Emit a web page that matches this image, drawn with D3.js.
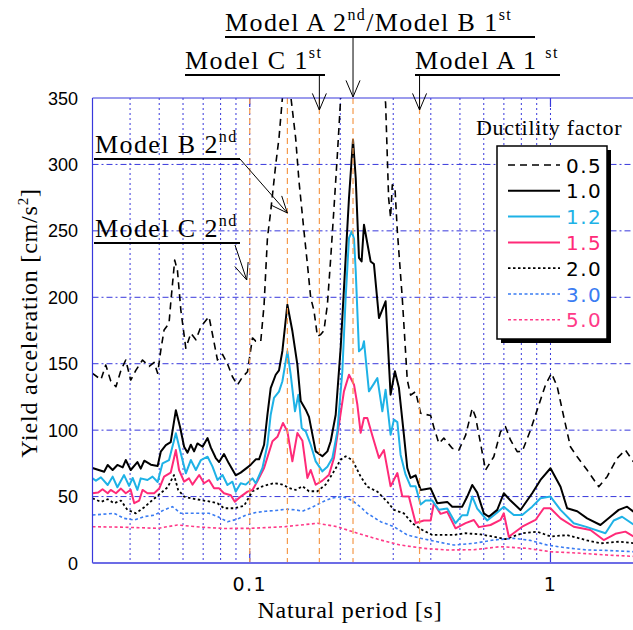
<!DOCTYPE html>
<html>
<head>
<meta charset="utf-8">
<script src="https://cdn.jsdelivr.net/npm/d3@7/dist/d3.min.js"></script>
<style>
  body { margin: 0; background: #fff; }
  svg { display: block; }
</style>
</head>
<body>
<div id="chart"></div>
<script>
// Yield acceleration spectra, one array per ductility factor: [natural period (s), cm/s2]
var mu05 = [[0.030,142.8],[0.0320,138],[0.0332,149],[0.0345,137],[0.0359,132.7],[0.0373,145],[0.0387,152.8],[0.0402,137.7],[0.0418,145],[0.0440,152.8],[0.0463,148],[0.0481,151],[0.0494,142.8],[0.0506,160],[0.0519,175.4],[0.0539,180.4],[0.0546,195.5],[0.0563,228],[0.0575,220],[0.0590,190.4],[0.0613,161.6],[0.0637,172.9],[0.0662,168],[0.0688,177.9],[0.0732,185.4],[0.0752,172],[0.0781,152.8],[0.0812,157],[0.0843,150],[0.0876,140.2],[0.0910,134],[0.0946,140],[0.0983,144],[0.1021,169.4],[0.1047,167],[0.1088,166.9],[0.1116,194.4],[0.1145,244.6],[0.1174,264.7],[0.1220,299.8],[0.1251,319.9],[0.1284,350],[0.1334,375],[0.1368,352],[0.1421,320],[0.1458,287.3],[0.1515,249.7],[0.1555,225],[0.1595,199.5],[0.1635,190],[0.1679,170.6],[0.1722,172],[0.1765,175],[0.1812,194.4],[0.1859,229.6],[0.1906,267.2],[0.1956,307.3],[0.2006,350],[0.2166,430],[0.2429,450],[0.2684,400],[0.2830,346],[0.2896,274.7],[0.2940,260],[0.2979,284.7],[0.3039,283],[0.3096,249.7],[0.3215,199.5],[0.3341,137.7],[0.3427,126.4],[0.3561,129],[0.3700,112.7],[0.3995,111],[0.4096,102],[0.4255,90],[0.4420,94],[0.4714,86.3],[0.4958,85],[0.5220,96],[0.5495,116.4],[0.5634,110],[0.5854,90],[0.6082,70],[0.6480,80],[0.6820,98.8],[0.7086,102.6],[0.7363,92.6],[0.7752,83.8],[0.8054,84],[0.8582,100],[0.9264,122.7],[0.9625,134],[1.008,142.8],[1.053,132.7],[1.107,110.1],[1.165,87.5],[1.227,80],[1.324,70],[1.447,57.4],[1.543,65],[1.665,78.8],[1.775,85],[1.887,76.2]];

var mu10 = [[0.030,71.5],[0.0328,68.7],[0.0337,73.8],[0.0350,70],[0.0363,73.8],[0.0378,72],[0.0387,77.5],[0.0402,70],[0.0423,76],[0.0434,71],[0.0446,77],[0.0469,74],[0.0494,73],[0.0506,83.8],[0.0526,88.8],[0.0546,91],[0.0568,115],[0.0587,102],[0.0605,87.5],[0.0621,83],[0.0637,89],[0.0653,84],[0.0670,90],[0.0697,87.5],[0.0724,94],[0.0742,87],[0.0771,79],[0.0791,76],[0.0821,82],[0.0852,75],[0.0898,66],[0.0933,68],[0.0983,72],[0.1008,74],[0.1047,78],[0.1074,78],[0.1116,89],[0.1145,111.6],[0.1174,131.7],[0.1220,141.7],[0.1251,145],[0.1284,159.6],[0.1334,194.4],[0.1386,174.6],[0.1440,149.3],[0.1477,122],[0.1535,115.4],[0.1574,110],[0.1616,96.6],[0.1657,84],[0.1744,80.3],[0.1812,84],[0.1859,91.6],[0.1931,111.6],[0.2006,161.8],[0.2084,229.6],[0.2138,274.7],[0.2205,318.6],[0.2251,290],[0.2308,229.6],[0.2355,227],[0.2398,254.6],[0.2523,227],[0.2588,225],[0.2690,184.4],[0.2830,197],[0.2940,126.7],[0.3039,144.3],[0.3133,132],[0.3255,96.6],[0.3341,71.5],[0.3427,64],[0.3514,65.3],[0.3561,66],[0.3700,55],[0.3995,56.2],[0.4203,45],[0.4537,46],[0.4714,42.4],[0.5088,42.4],[0.5289,50],[0.5495,58.7],[0.5707,53],[0.6004,37.4],[0.6237,34.8],[0.6653,40],[0.6995,52.5],[0.7363,47],[0.7949,39.9],[0.8694,52.5],[0.9264,62.5],[1.000,71.3],[1.080,57.4],[1.136,41.2],[1.227,39],[1.324,33.6],[1.466,28.6],[1.582,34.8],[1.686,40],[1.798,42.4],[1.887,38.6]];

var mu12 = [[0.030,63.7],[0.0308,62],[0.0320,64.5],[0.0337,58.7],[0.0350,65],[0.0363,57],[0.0382,66.2],[0.0397,58],[0.0408,64],[0.0423,55],[0.0434,63.7],[0.0457,62.5],[0.0475,65],[0.0494,61],[0.0513,75],[0.0539,77.5],[0.0568,97.6],[0.0590,82.5],[0.0613,67.5],[0.0637,77.5],[0.0662,70],[0.0688,77.5],[0.0724,80],[0.0752,72.5],[0.0781,62.5],[0.0812,66.2],[0.0843,58.7],[0.0876,61.2],[0.0898,53.7],[0.0933,60],[0.0970,59],[0.1021,63.7],[0.1047,60],[0.1102,71.5],[0.1145,89],[0.1174,111.6],[0.1204,124.2],[0.1251,129],[0.1284,136.8],[0.1334,159.3],[0.1368,142],[0.1414,114.2],[0.1451,126.7],[0.1489,101.6],[0.1535,99],[0.1595,89],[0.1657,76.5],[0.1744,69],[0.1812,72.5],[0.1883,79],[0.1956,99.1],[0.2032,144.3],[0.2084,199.5],[0.2138,244.6],[0.2183,249.7],[0.2222,244],[0.2251,220],[0.2308,159.3],[0.2369,161.8],[0.2398,166.9],[0.2491,129.2],[0.2588,135],[0.2657,139.2],[0.2760,114.2],[0.2830,130.4],[0.2940,96.6],[0.3016,107.9],[0.3096,106],[0.3174,81.5],[0.3298,66.5],[0.3427,57.7],[0.3561,57.7],[0.3700,44],[0.3844,47],[0.4046,47],[0.4255,40],[0.4537,41],[0.4835,30],[0.5088,36],[0.5289,36],[0.5495,50],[0.5707,41],[0.6162,32],[0.6653,38],[0.6995,42.4],[0.7553,36.1],[0.8054,36.1],[0.8694,42.4],[0.9264,48.7],[1.000,50],[1.080,40],[1.195,29.9],[1.324,27],[1.523,22.4],[1.623,32],[1.730,34.8],[1.887,29]];

var mu15 = [[0.030,52.5],[0.0313,53],[0.0324,55.5],[0.0337,52.5],[0.0345,55],[0.0359,52.5],[0.0373,56],[0.0387,52.5],[0.0402,55],[0.0413,45],[0.0429,47],[0.0440,55],[0.0457,52.5],[0.0481,52.5],[0.0500,56],[0.0519,65],[0.0546,68],[0.0568,85],[0.0582,70],[0.0605,61.2],[0.0628,63.7],[0.0645,59],[0.0679,66.2],[0.0705,60],[0.0732,62.5],[0.0761,56.2],[0.0791,56.2],[0.0821,52.5],[0.0865,51],[0.0892,46.1],[0.0933,50],[0.0983,53.7],[0.1021,55],[0.1060,61.5],[0.1116,71.5],[0.1190,91.6],[0.1236,95],[0.1290,105.4],[0.1334,99.1],[0.1386,76.5],[0.1440,97.8],[0.1497,92],[0.1555,64],[0.1595,70],[0.1657,58.9],[0.1744,62],[0.1835,66.5],[0.1906,79],[0.1980,104.1],[0.2057,129.2],[0.2138,141.7],[0.2222,134.2],[0.2280,119.1],[0.2338,98],[0.2398,109.1],[0.2460,109.1],[0.2556,96],[0.2690,79],[0.2794,85],[0.2940,57.7],[0.3096,67.7],[0.3215,50.2],[0.3382,50],[0.3561,30.1],[0.3795,32],[0.3995,32],[0.4096,45],[0.4311,37],[0.4537,38.6],[0.4835,26.1],[0.5220,30],[0.5563,32.4],[0.5778,27],[0.6319,28.6],[0.6820,32.4],[0.6995,37.4],[0.7269,19.8],[0.8054,27.3],[0.8917,32.4],[0.9500,41.2],[1.000,41.2],[1.080,33.6],[1.195,27.3],[1.358,24.8],[1.503,17.3],[1.644,22],[1.775,23.6],[1.887,20]];

var mu20 = [[0.030,48.7],[0.0320,46],[0.0337,48],[0.0354,45],[0.0373,47],[0.0392,40],[0.0418,37.4],[0.0446,42],[0.0475,47.4],[0.0506,52.5],[0.0533,57],[0.0560,66.2],[0.0578,55],[0.0605,50],[0.0637,48.7],[0.0688,47.4],[0.0742,46.1],[0.0781,45],[0.0821,41.2],[0.0887,41.2],[0.0957,43],[0.1021,54],[0.1102,57.7],[0.1204,60.2],[0.1284,59],[0.1351,56.5],[0.1421,55],[0.1497,57.7],[0.1574,54],[0.1679,54],[0.1788,59],[0.1906,69],[0.2006,77.8],[0.2084,80.3],[0.2194,77.5],[0.2338,65],[0.2460,57.4],[0.2657,53.7],[0.2867,46.1],[0.3016,40],[0.3255,37.4],[0.3472,29.9],[0.3749,24.8],[0.4046,21.1],[0.4772,21.1],[0.5220,22.4],[0.5854,21.5],[0.6480,19.8],[0.7086,18],[0.8054,22.4],[0.9033,23.6],[1.000,20],[1.136,21],[1.324,17],[1.466,14.8],[1.686,16],[1.887,15]];

var mu30 = [[0.030,36.1],[0.0354,37.4],[0.0382,33.6],[0.0413,32.4],[0.0446,35],[0.0481,36],[0.0519,40],[0.0553,42.4],[0.0590,37.4],[0.0637,37.4],[0.0688,37.4],[0.0732,37.4],[0.0781,35],[0.0843,31.1],[0.0910,33],[0.0970,36],[0.1047,38],[0.1130,39],[0.1220,39.5],[0.1317,40.5],[0.1421,40],[0.1497,39],[0.1616,42],[0.1744,46],[0.1883,49],[0.2032,50],[0.2194,47],[0.2338,42],[0.2460,37.4],[0.2724,31.1],[0.3016,27.3],[0.3341,21.1],[0.3700,18.6],[0.4203,16],[0.4772,13.5],[0.5563,14.8],[0.6480,17.3],[0.7553,18.6],[0.8582,17],[0.9750,13.5],[1.121,11.5],[1.324,9.8],[1.523,9.5],[1.887,8.5]];

var mu50 = [[0.030,27.3],[0.0373,27],[0.0494,26.1],[0.0575,28.6],[0.0688,27],[0.0821,26],[0.1008,26.1],[0.1300,27.3],[0.1679,29.9],[0.1956,27.3],[0.2280,22.4],[0.2724,17.3],[0.3174,13.5],[0.3795,11],[0.4537,9.8],[0.5563,10],[0.6820,12.3],[0.8366,11],[1.000,8.5],[1.227,7.5],[1.543,6],[1.887,5]];

var ductilityLabels = ['0.5', '1.0', '1.2', '1.5', '2.0', '3.0', '5.0'];
var seriesColors = ['#000000', '#000000', '#1eb2e6', '#ff2a78', '#000000', '#3a7cf2', '#ff3a88'];

// natural periods of the models (orange marker lines)
var modelPeriods = [0.1, 0.1334, 0.1704, 0.2205, 0.367];

var yTicks = [0, 50, 100, 150, 200, 250, 300, 350];
var xTickValues = [0.1, 1];
var xTickLabels = ['0.1', '1'];
var xGridValues = [0.04, 0.05, 0.06, 0.07, 0.08, 0.09, 0.1, 0.2, 0.3, 0.4, 0.5, 0.6, 0.7, 0.8, 0.9, 1, 2];

var WIDTH = 633, HEIGHT = 630;
var LEFT = 92.5, RIGHT = 641, TOP = 98, BOTTOM = 563;
var GRID_BLUE = '#3838dc';
var SERIF = '"Liberation Serif", "Times New Roman", serif';
var MONO_NUM = '"DejaVu Sans", "Noto Sans", sans-serif';

var svg = d3.select('#chart').append('svg')
    .attr('width', WIDTH)
    .attr('height', HEIGHT);

var x = d3.scaleLog().domain([0.03, 2]).range([LEFT, RIGHT]);
var y = d3.scaleLinear().domain([0, 350]).range([BOTTOM, TOP]);

svg.append('defs').append('clipPath').attr('id', 'plot-clip')
    .append('rect')
    .attr('x', LEFT).attr('y', TOP)
    .attr('width', RIGHT - LEFT).attr('height', BOTTOM - TOP);

// grid
var grid = svg.append('g').attr('class', 'grid');
grid.selectAll('line.vgrid').data(xGridValues).enter().append('line')
    .attr('class', 'vgrid')
    .attr('x1', function (d) { return x(d); })
    .attr('x2', function (d) { return x(d); })
    .attr('y1', TOP).attr('y2', BOTTOM)
    .attr('stroke', GRID_BLUE).attr('stroke-width', 1)
    .attr('stroke-dasharray', '2,3');

grid.selectAll('line.hgrid').data(yTicks.filter(function (d) { return d > 0 && d < 350; })).enter().append('line')
    .attr('class', 'hgrid')
    .attr('x1', LEFT).attr('x2', WIDTH)
    .attr('y1', function (d) { return y(d); })
    .attr('y2', function (d) { return y(d); })
    .attr('stroke', GRID_BLUE).attr('stroke-width', 1)
    .attr('stroke-dasharray', '6,3,2,3');

// decade ticks on top and bottom borders
xTickValues.forEach(function (t) {
    svg.append('line').attr('x1', x(t)).attr('x2', x(t)).attr('y1', TOP).attr('y2', TOP + 9)
        .attr('stroke', GRID_BLUE).attr('stroke-width', 1.2);
    svg.append('line').attr('x1', x(t)).attr('x2', x(t)).attr('y1', BOTTOM - 12).attr('y2', BOTTOM)
        .attr('stroke', GRID_BLUE).attr('stroke-width', 1.2);
});

// curves
var seriesData = [mu05, mu10, mu12, mu15, mu20, mu30, mu50];
var seriesWidth = [1.6, 2, 2, 2, 1.8, 1.6, 1.6];
var seriesDash = ['7,5', null, null, null, '2.5,2.5', '3,2.5', '3,2.5'];

var line = d3.line()
    .x(function (d) { return x(d[0]); })
    .y(function (d) { return y(d[1]); });

var curves = svg.append('g').attr('clip-path', 'url(#plot-clip)');
// draw the heavy-damped ones first so the 1.0 line stays on top
[6, 5, 4, 3, 2, 1, 0].forEach(function (i) {
    curves.append('path')
        .datum(seriesData[i])
        .attr('d', line)
        .attr('fill', 'none')
        .attr('stroke', seriesColors[i])
        .attr('stroke-width', seriesWidth[i])
        .attr('stroke-linejoin', 'round')
        .attr('stroke-dasharray', seriesDash[i]);
});

// model period markers
svg.selectAll('line.model').data(modelPeriods).enter().append('line')
    .attr('class', 'model')
    .attr('x1', function (d) { return x(d); })
    .attr('x2', function (d) { return x(d); })
    .attr('y1', TOP).attr('y2', BOTTOM)
    .attr('stroke', '#f59a4c').attr('stroke-width', 1.2)
    .attr('stroke-dasharray', '6,4');

// frame
svg.append('line').attr('x1', LEFT).attr('x2', WIDTH).attr('y1', TOP).attr('y2', TOP)
    .attr('stroke', GRID_BLUE).attr('stroke-width', 1.2);
svg.append('line').attr('x1', LEFT).attr('x2', LEFT).attr('y1', TOP).attr('y2', BOTTOM)
    .attr('stroke', GRID_BLUE).attr('stroke-width', 1.2);
svg.append('line').attr('x1', LEFT).attr('x2', WIDTH).attr('y1', BOTTOM).attr('y2', BOTTOM)
    .attr('stroke', '#6c6ce6').attr('stroke-width', 2);

// tick labels
svg.selectAll('text.ytick').data(yTicks).enter().append('text')
    .attr('class', 'ytick')
    .attr('x', 78)
    .attr('y', function (d) { return y(d) + 6.5; })
    .attr('text-anchor', 'end')
    .style('font-family', '"Liberation Sans", Arial, sans-serif')
    .style('font-size', '18px')
    .text(function (d) { return d; });

svg.selectAll('text.xtick').data(xTickValues).enter().append('text')
    .attr('class', 'xtick')
    .attr('x', function (d) { return x(d); })
    .attr('y', 591)
    .attr('text-anchor', 'middle')
    .style('font-family', MONO_NUM)
    .style('font-size', '19px')
    .style('letter-spacing', '1.5px')
    .text(function (d, i) { return xTickLabels[i]; });

// axis titles
svg.append('text')
    .attr('x', 350).attr('y', 618)
    .attr('text-anchor', 'middle')
    .style('font-family', SERIF).style('font-size', '24px').style('letter-spacing', '0.8px')
    .text('Natural period [s]');

var yTitle = svg.append('text')
    .attr('transform', 'translate(37,323) rotate(-90)')
    .attr('text-anchor', 'middle')
    .style('font-family', SERIF).style('font-size', '24px').style('letter-spacing', '0.8px');
yTitle.append('tspan').text('Yield acceleration [cm/s');
yTitle.append('tspan').attr('dy', -9).style('font-size', '15px').text('2');
yTitle.append('tspan').attr('dy', 9).text(']');

// annotations
function label(xPos, yPos, parts) {
    var t = svg.append('text')
        .attr('x', xPos).attr('y', yPos)
        .style('font-family', SERIF).style('font-size', '26px').style('letter-spacing', '1.4px');
    var shift = 0;
    parts.forEach(function (p) {
        var s = t.append('tspan').text(p[0]);
        if (p[1]) {
            s.attr('dy', -11 - shift).style('font-size', '16px');
            shift = -11;
        } else {
            s.attr('dy', -shift);
            shift = 0;
        }
    });
}

function underline(x1, x2, yPos) {
    svg.append('line').attr('x1', x1).attr('x2', x2).attr('y1', yPos).attr('y2', yPos)
        .attr('stroke', '#000').attr('stroke-width', 2);
}

function arrow(x1, y1, x2, y2) {
    var g = svg.append('g').attr('stroke', '#000').attr('stroke-width', 1).attr('fill', 'none');
    g.append('line').attr('x1', x1).attr('y1', y1).attr('x2', x2).attr('y2', y2);
    var ang = Math.atan2(y1 - y2, x1 - x2);
    var len = 18, spread = 0.4;
    g.append('path').attr('d',
        'M' + (x2 + len * Math.cos(ang + spread)) + ',' + (y2 + len * Math.sin(ang + spread)) +
        'L' + x2 + ',' + y2 +
        'L' + (x2 + len * Math.cos(ang - spread)) + ',' + (y2 + len * Math.sin(ang - spread)));
}

label(225, 31, [['Model A 2'], ['nd', true], ['/Model B 1'], ['st', true]]);
underline(225, 535, 37);
arrow(x(modelPeriods[3]), 37, x(modelPeriods[3]), 97);

label(185, 69, [['Model C 1'], ['st', true]]);
underline(185, 325, 75);
arrow(x(modelPeriods[2]), 75, x(modelPeriods[2]), 110);

label(415, 69, [['Model A 1 '], ['st', true]]);
underline(415, 560, 75);
arrow(x(modelPeriods[4]), 75, x(modelPeriods[4]), 110);

label(95, 153, [['Model B 2'], ['nd', true]]);
underline(94, 240, 159);
arrow(240, 159, x(modelPeriods[1]), 213);

label(95, 237, [['Model C 2'], ['nd', true]]);
underline(94, 240, 243);
arrow(235, 245, x(modelPeriods[0]) - 3, 280);

// legend
var legend = svg.append('g').attr('class', 'legend');
legend.append('text')
    .attr('x', 476).attr('y', 135)
    .style('font-family', SERIF).style('font-size', '22px').style('letter-spacing', '0.7px')
    .text('Ductility factor');
legend.append('rect')
    .attr('x', 501).attr('y', 150).attr('width', 110).attr('height', 193)
    .attr('fill', '#000');
legend.append('rect')
    .attr('x', 497).attr('y', 146).attr('width', 110).attr('height', 193)
    .attr('fill', '#fff').attr('stroke', '#000').attr('stroke-width', 1.5);

ductilityLabels.forEach(function (lab, i) {
    var ly = 165 + i * 25.8;
    legend.append('line')
        .attr('x1', 508).attr('x2', 560).attr('y1', ly).attr('y2', ly)
        .attr('stroke', seriesColors[i])
        .attr('stroke-width', seriesWidth[i])
        .attr('stroke-dasharray', seriesDash[i]);
    legend.append('text')
        .attr('x', 566).attr('y', ly + 7.5)
        .attr('fill', seriesColors[i])
        .style('font-family', MONO_NUM).style('font-size', '20px').style('letter-spacing', '1.5px')
        .text(lab);
});

console.log('init: yield acceleration spectra');
</script>
</body>
</html>
